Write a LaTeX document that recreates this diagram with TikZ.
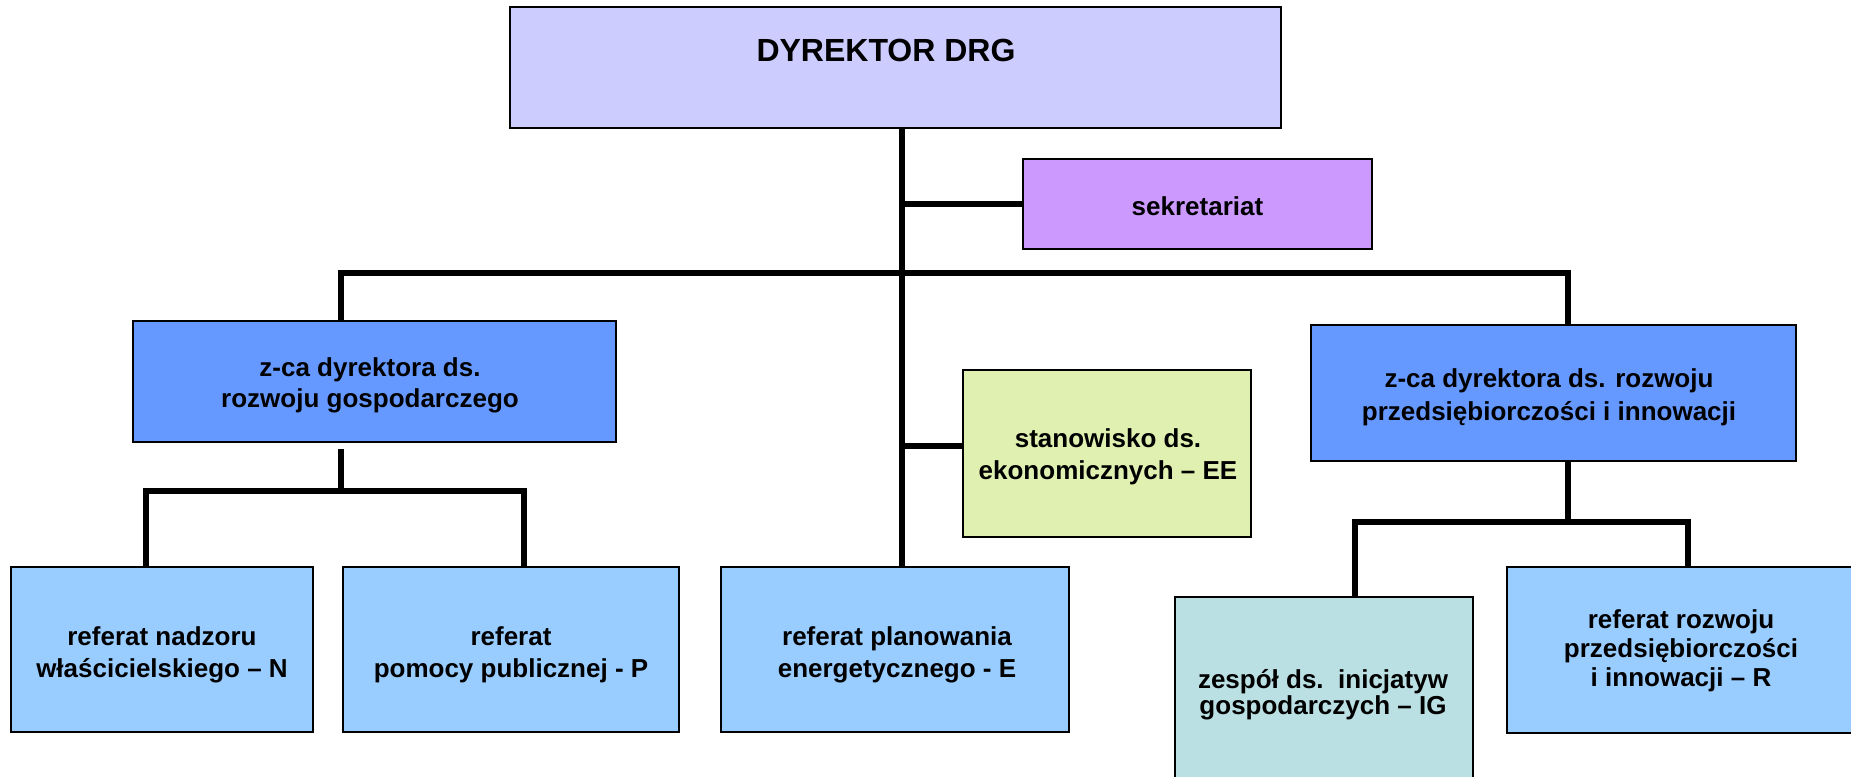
\documentclass[tikz,border=0pt]{standalone}
\usepackage{fontspec}
\setmainfont{Liberation Sans}
\usetikzlibrary{backgrounds}
\definecolor{cdyr}{HTML}{CCCCFF}
\definecolor{csek}{HTML}{CC99FF}
\definecolor{czca}{HTML}{6699FF}
\definecolor{cee}{HTML}{E0F0B0}
\definecolor{cref}{HTML}{99CCFF}
\definecolor{cig}{HTML}{BAE0E3}
\newcommand{\bxt}[2]{{\fontsize{26}{#1}\selectfont\begin{tabular}[t]{@{}c@{}}#2\end{tabular}}}
\begin{document}
\begin{tikzpicture}[x=1pt,y=-1pt,
  box/.style={draw=black, line width=2.5pt, inner sep=0pt, outer sep=0pt},
  conn/.style={draw=black, line width=6pt},
  lbl/.style={anchor=base, inner sep=0pt, font=\bfseries\fontsize{26}{30}\selectfont}]
\useasboundingbox (0,0) rectangle (1851,776);
\clip (0,0) rectangle (1851,776);
% boxes
\node[box, fill=cdyr, minimum width=771pt, minimum height=121pt] (dyr) at (895.5,67.5) {};
\node[box, fill=csek, minimum width=349pt, minimum height=90pt] (sek) at (1197.5,204) {};
\node[box, fill=czca, minimum width=483pt, minimum height=121pt] (zl) at (374.5,381.5) {};
\node[box, fill=czca, minimum width=485pt, minimum height=136pt] (zr) at (1553.5,393) {};
\node[box, fill=cee, minimum width=288pt, minimum height=167pt] (ee) at (1107,453.5) {};
\node[box, fill=cref, minimum width=302pt, minimum height=165pt] (rn) at (162,649.5) {};
\node[box, fill=cref, minimum width=336pt, minimum height=165pt] (rp) at (511,649.5) {};
\node[box, fill=cref, minimum width=348pt, minimum height=165pt] (re) at (895,649.5) {};
\node[box, fill=cig, minimum width=298pt, minimum height=203pt] (ig) at (1324,698.5) {};
\node[box, fill=cref, minimum width=355pt, minimum height=166pt] (rr) at (1684.5,650) {};
% junction coordinates
\coordinate (tr) at (902,273);
\coordinate (bl) at (341,273);
\coordinate (br) at (1568,273);
\coordinate (ls) at (341,491);
\coordinate (lsl) at (146,491);
\coordinate (lsr) at (524,491);
\coordinate (rs) at (1568,522);
\coordinate (rsl) at (1355,522);
\coordinate (rsr) at (1688,522);
% connectors
\begin{scope}[on background layer]
\fill[white] (0,0) rectangle (1851,776);
\draw[conn] (dyr.south -| tr) -- (tr |- re.north);
\draw[conn] (tr |- sek.west) -- (sek.west);
\draw[conn] ([yshift=7.5pt]ee.west -| tr) -- ([yshift=7.5pt]ee.west);
\draw[conn] (bl |- zl.north) -- (bl) -- (br) -- (br |- zr.north);
\draw[conn, shorten <=7pt] (ls |- zl.south) -- (ls);
\draw[conn] (lsl |- rn.north) -- (lsl) -- (lsr) -- (lsr |- rp.north);
\draw[conn] (rs |- zr.south) -- (rs);
\draw[conn] (rsl |- ig.north) -- (rsl) -- (rsr) -- (rsr |- rr.north);
\end{scope}
% texts
\node[lbl] (tdyr) at (886,62) {\fontsize{32}{36}\selectfont DYREKTOR DRG};
\node[lbl] (tsek) at (1197.5,215) {sekretariat};
\node[lbl] (tzl) at (370,376) {\bxt{31}{z-ca dyrektora ds.\\rozwoju gospodarczego}};
\node[lbl] (tzr) at (1549,387) {\bxt{33}{z-ca dyrektora ds. rozwoju\\przedsiębiorczości i innowacji}};
\node[lbl] (tee) at (1108,447) {\bxt{32}{stanowisko ds.\\ekonomicznych – EE}};
\node[lbl] (trn) at (162,645) {\bxt{32}{referat nadzoru\\właścicielskiego – N}};
\node[lbl] (trp) at (511,645) {\bxt{32}{referat\\pomocy publicznej - P}};
\node[lbl] (tre) at (897,645) {\bxt{32}{referat planowania\\energetycznego - E}};
\node[lbl] (tig) at (1323,688) {\bxt{26}{zespół ds.~~inicjatyw\\gospodarczych – IG}};
\node[lbl] (trr) at (1681,628) {\bxt{29}{referat rozwoju\\przedsiębiorczości\\i innowacji – R}};
\end{tikzpicture}
\end{document}
